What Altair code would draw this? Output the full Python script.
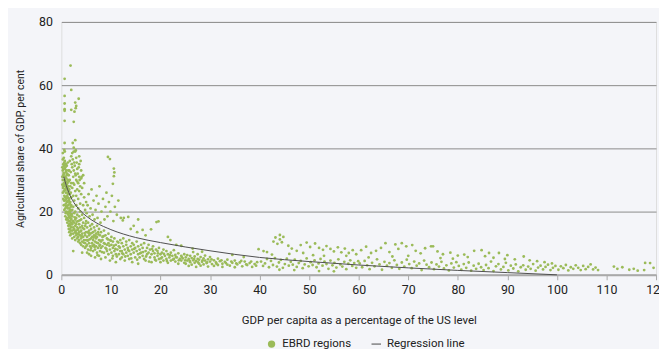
import altair as alt
import pandas as pd

# ---- scatter points: [GDP per capita % of US, agricultural share %] ----
outlier_points = [
    [1.86, 66.2], [0.66, 62.0], [2.0, 58.5], [0.66, 56.6], [3.5, 55.7], [0.66, 54.2], [2.8, 54.5],
    [3.0, 53.4], [2.9, 52.7], [0.66, 52.4], [0.66, 51.9], [2.0, 52.2], [2.65, 51.6], [0.66, 48.7],
    [2.5, 48.4], [2.8, 42.6], [2.3, 41.7], [0.66, 41.7], [2.5, 40.2], [2.9, 39.4], [2.5, 39.0], [0.7, 39.0],
]

low_gdp_points = [
    [0.2, 34], [0.2, 31], [0.2, 28.5], [0.3, 36.5], [0.3, 33], [0.3, 30], [0.3, 26], [0.3, 38.5],
    [0.4, 35], [0.4, 31.5], [0.4, 28], [0.4, 24], [0.4, 33.5], [0.5, 37], [0.5, 34.5], [0.5, 29], [0.5, 26.5], [0.5, 22], [0.5, 31],
    [0.6, 35.5], [0.6, 32], [0.6, 28.5], [0.6, 25], [0.6, 20.5], [0.6, 39.5], [0.7, 33.5], [0.7, 30], [0.7, 27], [0.7, 23.5], [0.7, 36],
    [0.8, 34], [0.8, 31], [0.8, 28], [0.8, 24.5], [0.8, 21], [0.8, 18.5], [0.9, 32.5], [0.9, 29.5], [0.9, 26], [0.9, 22.5], [0.9, 35], [0.9, 19.5],
    [1.0, 33], [1.0, 30.5], [1.0, 27.5], [1.0, 24], [1.0, 20], [1.0, 17.5], [1.1, 31.5], [1.1, 28.5], [1.1, 25], [1.1, 21.5], [1.1, 34.5], [1.1, 18],
    [1.2, 29], [1.2, 26], [1.2, 23], [1.2, 19.5], [1.2, 32], [1.2, 16.5], [1.3, 30], [1.3, 27], [1.3, 24.5], [1.3, 21], [1.3, 17.5], [1.3, 35.5],
    [1.4, 28], [1.4, 25.5], [1.4, 22], [1.4, 19], [1.4, 15.5], [1.4, 33], [1.5, 29.5], [1.5, 26.5], [1.5, 23.5], [1.5, 20], [1.5, 17], [1.5, 14.5], [1.5, 31.5],
    [1.6, 27], [1.6, 24], [1.6, 21], [1.6, 18.5], [1.6, 16], [1.6, 13.5], [1.6, 33],
    [1.7, 25.5], [1.7, 22.5], [1.7, 19.5], [1.7, 17], [1.7, 14.5], [1.7, 30], [1.7, 36],
    [1.8, 28], [1.8, 23], [1.8, 20.5], [1.8, 18], [1.8, 15.5], [1.8, 12.5],
    [1.9, 26], [1.9, 21.5], [1.9, 19], [1.9, 16.5], [1.9, 14], [1.9, 32.5],
    [2.0, 24.5], [2.0, 22], [2.0, 17.5], [2.0, 15], [2.0, 13], [2.0, 29], [2.0, 37.5],
    [2.2, 27.5], [2.2, 20.5], [2.2, 18.5], [2.2, 16], [2.2, 14], [2.2, 11.5], [2.2, 34],
    [2.4, 25], [2.4, 21.5], [2.4, 17], [2.4, 15], [2.4, 13], [2.4, 31], [2.4, 7.5],
    [2.6, 28.5], [2.6, 19.5], [2.6, 16.5], [2.6, 14.5], [2.6, 12], [2.6, 35.5], [2.6, 23.5],
    [2.8, 26.5], [2.8, 20], [2.8, 17.5], [2.8, 15.5], [2.8, 13.5], [2.8, 11], [2.8, 32],
    [3.0, 30], [3.0, 22], [3.0, 18], [3.0, 16], [3.0, 14], [3.0, 12.5], [3.0, 37], [3.0, 25],
    [3.2, 27], [3.2, 19], [3.2, 15], [3.2, 13], [3.2, 11.5], [3.2, 33.5],
    [3.4, 29], [3.4, 21], [3.4, 17], [3.4, 14.5], [3.4, 12], [3.4, 10.5], [3.4, 24],
    [3.6, 31], [3.6, 18.5], [3.6, 16], [3.6, 13.5], [3.6, 11], [3.6, 26.5], [3.6, 35],
    [3.8, 28], [3.8, 20], [3.8, 15], [3.8, 12.5], [3.8, 10], [3.8, 22.5],
    [4.0, 30.5], [4.0, 17.5], [4.0, 14], [4.0, 11.5], [4.0, 9.5], [4.0, 25.5], [4.0, 33],
    [4.2, 19], [4.2, 15.5], [4.2, 13], [4.2, 10.5], [4.2, 27.5], [4.2, 7],
    [4.4, 22], [4.4, 16.5], [4.4, 12], [4.4, 9], [4.4, 31.5],
    [4.6, 18], [4.6, 14.5], [4.6, 11], [4.6, 24.5], [4.6, 29],
    [4.8, 20.5], [4.8, 15.5], [4.8, 12.5], [4.8, 10], [4.8, 8.5],
    [5.0, 23], [5.0, 17], [5.0, 13.5], [5.0, 11], [5.0, 9],
    [2.1, 35], [2.3, 36.5], [2.5, 33], [2.7, 34.5], [2.9, 31.5], [3.1, 35.5], [3.3, 32], [3.5, 34],
    [3.7, 30], [3.9, 36], [2.2, 38.5], [2.8, 39], [3.2, 29.5], [4.1, 31], [2.4, 29], [3.6, 37.5],
]

band_extra_points = [
    [0.35, 27.5], [0.45, 32.2], [0.55, 23.5], [0.65, 29.8], [0.75, 34.8], [0.85, 26.8], [0.95, 21.8], [1.05, 29.2],
    [1.15, 23.2], [1.25, 27.8], [1.35, 19.8], [1.45, 24.2], [1.55, 18.2], [1.65, 22.8], [1.75, 15.8], [1.85, 20.2],
    [1.95, 17.8], [2.1, 19.2], [2.3, 16.8], [2.5, 14.2], [2.7, 18.2], [2.9, 13.2], [3.1, 16.8], [3.3, 14.2],
    [3.5, 12.8], [3.7, 17.2], [3.9, 13.8], [4.1, 12.2], [4.3, 14.8], [4.5, 10.2], [4.7, 13.2], [4.9, 16.2],
    [5.3, 10.8], [5.5, 13.2], [5.7, 11.2], [5.9, 7.8], [6.1, 13.2], [6.3, 9.2], [6.5, 11.8], [6.7, 8.8],
    [6.9, 12.2], [7.1, 10.2], [7.3, 6.2], [7.5, 12.8], [7.7, 9.2], [7.9, 10.8], [8.2, 7.2], [8.5, 12.2],
    [8.8, 9.8], [9.1, 8.2], [9.4, 11.2], [9.7, 9.2], [10.0, 10.8], [10.3, 5.2], [10.6, 9.2], [10.9, 8.2],
    [11.2, 5.8], [11.5, 10.2], [11.8, 8.6], [12.3, 6.8], [12.9, 5.8], [13.5, 7.8], [14.1, 5.2], [14.7, 8.2],
    [15.3, 4.8], [15.9, 6.8], [16.5, 7.2], [17.1, 5.8], [17.7, 4.2], [18.3, 8.2], [18.9, 4.8], [19.5, 6.8],
    [20.1, 5.2], [20.7, 6.6], [21.3, 4.4], [21.9, 6.2], [22.5, 4.8], [23.1, 5.6], [23.7, 4.6], [24.3, 5.6],
    [25.0, 4.6], [25.9, 4.4], [26.8, 5.0], [27.6, 3.9], [28.5, 4.6], [29.4, 3.9], [30.3, 4.9], [31.3, 3.5],
    [32.3, 4.6], [33.2, 3.7], [34.3, 4.2], [35.3, 3.6], [36.3, 4.4], [37.3, 3.3], [38.3, 4.2], [39.3, 2.9],
]

mid_low_points = [
    [5.2, 15], [5.2, 12], [5.2, 9.5], [5.2, 7], [5.4, 16.5], [5.4, 13.5], [5.4, 11], [5.4, 8], [5.6, 14], [5.6, 12.5], [5.6, 10], [5.6, 6.5],
    [5.8, 15.5], [5.8, 13], [5.8, 9], [6.0, 14.5], [6.0, 11.5], [6.0, 8.5], [6.0, 6], [6.2, 16], [6.2, 12], [6.2, 10], [6.4, 13.5], [6.4, 11], [6.4, 7.5],
    [6.6, 15], [6.6, 12.5], [6.6, 9.5], [6.8, 14], [6.8, 10.5], [6.8, 8], [6.8, 5.5], [7.0, 13], [7.0, 11.5], [7.0, 9], [7.2, 15.5], [7.2, 12], [7.2, 7],
    [7.4, 13.5], [7.4, 10], [7.4, 8.5], [7.6, 14.5], [7.6, 11], [7.6, 6], [7.8, 12.5], [7.8, 9.5], [7.8, 7.5], [8.0, 13.5], [8.0, 10.5], [8.0, 8.5], [8.0, 5],
    [8.3, 12], [8.3, 9], [8.3, 11], [8.6, 14], [8.6, 10], [8.6, 7], [8.9, 12.5], [8.9, 8.5], [8.9, 5.5], [9.2, 11.5], [9.2, 9.5], [9.2, 7.5], [9.5, 13], [9.5, 10], [9.5, 6.5],
    [9.8, 11], [9.8, 8], [9.8, 4.5], [10.1, 12], [10.1, 9.5], [10.1, 7], [10.4, 10.5], [10.4, 8.5], [10.4, 6], [10.7, 11.5], [10.7, 7.5], [11.0, 9.5], [11.0, 6.5], [11.0, 4],
    [11.3, 10.5], [11.3, 8], [11.6, 9], [11.6, 6.5], [11.9, 11], [11.9, 7.5], [11.9, 5],
    [5.1, 19.5], [5.3, 22], [5.5, 25.5], [5.7, 18.5], [5.9, 21], [6.1, 27], [6.3, 19], [6.5, 23.5], [6.7, 17.5], [6.9, 20.5], [7.1, 25],
    [7.3, 18], [7.5, 22.5], [7.7, 28], [7.9, 16.5], [8.1, 20], [8.4, 24], [8.7, 17.5], [8.9, 21.5], [9.1, 26], [9.3, 18.5], [9.6, 23],
    [9.9, 20], [10.2, 25], [10.5, 17], [10.8, 21.5], [11.2, 19], [11.5, 23.5], [12.0, 18], [12.4, 17.2], [12.6, 18], [13.5, 18.3],
    [15.5, 17.5], [16.4, 14.2], [18.1, 14.4], [19.2, 16.7], [19.6, 16.9], [14.0, 14.5], [14.6, 15.5], [15.3, 13.5], [17.0, 12.5],
    [21.5, 12], [22.0, 11], [9.4, 37.3], [9.8, 36.6], [10.6, 33.6], [10.7, 32.4], [10.4, 28.8], [10.6, 31.2],
    [12.2, 10], [12.2, 7.5], [12.2, 5.5], [12.5, 11.5], [12.5, 9], [12.5, 6.5], [12.8, 8], [12.8, 4.5], [13.1, 10.5], [13.1, 7], [13.1, 9.5],
    [13.4, 8.5], [13.4, 6], [13.7, 11], [13.7, 7.5], [13.7, 5], [14.0, 9], [14.0, 6.5], [14.3, 10], [14.3, 8], [14.3, 4], [14.6, 7], [14.6, 9.5],
    [14.9, 8.5], [14.9, 5.5], [15.2, 10.5], [15.2, 7.5], [15.5, 6.5], [15.5, 9], [15.5, 3.5], [15.8, 8], [15.8, 5.5], [16.1, 9.5], [16.1, 7],
    [16.4, 6], [16.4, 8.5], [16.7, 10], [16.7, 5], [17.0, 7.5], [17.0, 4.5], [17.3, 8.5], [17.3, 6.5], [17.6, 7], [17.6, 9.5],
    [17.9, 5.5], [17.9, 8], [18.2, 6.5], [18.2, 4], [18.5, 7.5], [18.5, 9], [18.8, 5.5], [18.8, 6.8], [19.1, 8], [19.1, 4.5], [19.4, 6], [19.4, 7.5],
    [19.7, 5], [19.7, 8.5], [20.0, 6.5], [20.0, 4], [20.3, 7], [20.3, 5.5], [20.6, 8], [20.6, 4.5], [20.9, 6], [21.2, 7.5], [21.2, 5], [21.5, 6.5],
    [21.5, 3.8], [21.8, 5.5], [22.1, 7], [22.1, 4.5], [22.4, 6], [22.7, 5], [22.7, 7.8], [23.0, 4.2], [23.0, 6.3], [23.3, 5.5], [23.6, 3.5],
    [23.6, 6.8], [23.9, 5], [24.2, 4.5], [24.2, 6], [24.5, 5.2], [24.8, 3.8], [24.8, 6.5],
]

mid_points = [
    [25.1, 5.5], [25.1, 3.5], [25.4, 4.5], [25.4, 6.2], [25.7, 5], [25.7, 2.8], [26.0, 4], [26.0, 6], [26.3, 5.3], [26.3, 3.2], [26.6, 4.6], [26.6, 7.2],
    [26.9, 3.8], [26.9, 5.8], [27.2, 4.3], [27.2, 2.5], [27.5, 5], [27.5, 6.5], [27.8, 3.5], [27.8, 4.8], [28.1, 5.6], [28.1, 2.9], [28.4, 4.1],
    [28.7, 5.2], [28.7, 3.3], [29.0, 4.5], [29.0, 6.1], [29.3, 3.7], [29.6, 4.9], [29.6, 2.6], [30.0, 4.2], [30.0, 5.6], [30.4, 3.4], [30.8, 4.6],
    [30.8, 2.8], [31.2, 3.9], [31.6, 5.1], [31.6, 3.1], [32.0, 4.3], [32.5, 3.5], [32.5, 2.5], [33.0, 4.1], [33.5, 3.2], [33.5, 4.8],
    [34.0, 2.9], [34.5, 3.8], [35.0, 4.5], [35.0, 2.4], [35.5, 3.3], [36.0, 3.9], [36.5, 2.7], [37.0, 4.2], [37.5, 3.1], [38.0, 3.7],
    [38.5, 2.5], [39.0, 3.4], [39.5, 4], [39.8, 8.1], [40.8, 7.5], [23.2, 9.5], [24.2, 9.2], [26.5, 8.3], [28.4, 7.3], [34.5, 6.3], [36.8, 5.6],
    [42.8, 10.5], [43.2, 11.8], [43.6, 9.8], [44.1, 12.6], [44.1, 11.2], [44.5, 10.3], [44.8, 12.0], [45.8, 9.2], [46.5, 8.3], [47.5, 7.6],
    [48.3, 9.4], [49.5, 10.2], [50.2, 8.8], [51.2, 9.9], [52.0, 8.5], [52.8, 7.9], [53.5, 9.1], [54.3, 8.2], [55.0, 7.4], [55.8, 8.7],
    [56.5, 7.1], [57.2, 8.3], [58.0, 6.9], [58.8, 7.8], [59.5, 6.5], [41.5, 7.2], [42.5, 6.4], [46.0, 6.6], [48.8, 6.9], [50.8, 6.2], [53.0, 6.0], [57.5, 6.0],
    [40.3, 4.2], [40.7, 2.8], [41.1, 3.6], [41.5, 5], [41.9, 2.4], [42.3, 4.4], [42.7, 3.1], [43.1, 5.3], [43.5, 2.6], [43.9, 3.9], [44.3, 4.7],
    [44.7, 2.2], [45.1, 3.4], [45.5, 5.1], [45.9, 2.9], [46.3, 4.1], [46.7, 3.2], [47.1, 4.8], [47.5, 2.5], [47.9, 3.7], [48.3, 4.4], [48.7, 2.1],
    [49.1, 3.3], [49.5, 5.2], [49.9, 2.7], [50.3, 4], [50.7, 3.1], [51.1, 4.6], [51.5, 2.4], [51.9, 3.6], [52.3, 5], [52.7, 2.9], [53.1, 4.2],
    [53.5, 3.4], [53.9, 1.9], [54.3, 4.5], [54.7, 3], [55.1, 3.8], [55.5, 2.3], [55.9, 4.9], [56.3, 3.3], [56.7, 2.6], [57.1, 4.1], [57.5, 1.8],
    [57.9, 3.5], [58.3, 4.6], [58.7, 2.8], [59.1, 3.7], [59.5, 2.2], [59.9, 4.3], [47.0, 1.5], [52.0, 1.2], [55.0, 1.1], [44.0, 1.6],
]

high_gdp_points = [
    [60.5, 7.8], [61.5, 8.9], [62.5, 6.9], [63.5, 7.6], [64.5, 8.5], [65.4, 10], [66.2, 7.2], [67.4, 9.6], [68, 8.2], [68.7, 10], [69.6, 9],
    [70.8, 9.4], [71.5, 7.6], [72.5, 6.8], [73.4, 8.4], [74.6, 9], [75, 9], [75.9, 7.4], [77, 6.5], [78.5, 7], [80, 6.1], [81.3, 6.4], [82, 5.6],
    [83.3, 7.6], [84.8, 7.8], [85.5, 5.9], [86.3, 6.9], [87.2, 5.4], [88.3, 6.9], [89.5, 5], [90, 6.2], [91.5, 4.9], [93.3, 5.8], [94.5, 4.6],
    [96, 4.3], [97.5, 4], [99, 3.6], [62, 5.5], [66.8, 5.8], [70, 6], [76.5, 5.3], [79, 5.1],
    [60.2, 3.6], [60.7, 2.4], [61.2, 4.4], [61.7, 3], [62.2, 1.8], [62.7, 3.8], [63.2, 2.7], [63.7, 4.9], [64.2, 3.3], [64.7, 1.6], [65.2, 4.1],
    [65.7, 2.9], [66.2, 3.7], [66.7, 2.2], [67.2, 4.6], [67.7, 3.1], [68.2, 1.9], [68.7, 3.9], [69.2, 2.6], [69.7, 4.8], [70.2, 3.4], [70.7, 2.1],
    [71.2, 4.2], [71.7, 2.9], [72.2, 3.6], [72.7, 1.5], [73.2, 4.5], [73.7, 3.2], [74.2, 2.4], [74.7, 3.9], [75.2, 1.8], [75.7, 3.3], [76.2, 2.6],
    [76.7, 4.1], [77.2, 2], [77.7, 3], [78.2, 1.4], [78.7, 3.6], [79.2, 2.3], [79.7, 4], [80.2, 2.8], [80.7, 1.6], [81.2, 3.4], [81.7, 2.2],
    [82.2, 3.9], [82.7, 1.3], [83.2, 2.9], [83.7, 1.9], [84.2, 3.5], [84.7, 2.4], [85.2, 1.5], [85.7, 3.1], [86.2, 2.1], [86.7, 4.2], [87.2, 1.2],
    [87.7, 2.7], [88.2, 3.4], [88.7, 1.7], [89.2, 2.5], [89.7, 3.8], [90.2, 1.4], [90.7, 2.9], [91.2, 2], [91.7, 3.3], [92.2, 1.1], [92.7, 2.4],
    [93.2, 3], [93.7, 1.6], [94.2, 2.6], [94.7, 1.9], [95.2, 3.4], [95.7, 1.3], [96.2, 2.3], [96.7, 2.9], [97.2, 1.7], [97.7, 2.5], [98.2, 3.2],
    [98.7, 1.5], [99.2, 2.2], [99.7, 2.8],
    [100.3, 1.6], [100.8, 2.7], [101.3, 2.1], [101.8, 3.1], [102.3, 1.4], [102.8, 2.4], [103.3, 1.9], [103.8, 3], [104.3, 2.2], [104.8, 1.5],
    [105.3, 2.8], [105.8, 1.8], [106.3, 2.5], [106.8, 3.3], [107.3, 1.7], [107.8, 2.3], [108.3, 1.5], [111.5, 2.6], [112.2, 1.9], [113.2, 2.4],
    [114.6, 1.6], [115.5, 1.9], [116.3, 1.3], [117.6, 1.5], [117.8, 3.75], [118.8, 3.7], [119.5, 2.2],
]

# ---- regression line ----
reg_x = [0.5, 1, 2, 3, 4, 5, 7, 10, 15, 20, 30, 40, 50, 60, 70, 80, 90, 100]
reg_y = [31.0, 28.2, 24.3, 21.8, 20.0, 18.6, 16.5, 14.3, 11.8, 10.2, 7.6, 5.5, 4.2, 3.1, 2.2, 1.4, 0.7, 0.0]

series_names = ["EBRD regions", "Regression line"]
series_colors = ["#9bbb59", "#4d4d4d"]

rows = []
for group in (outlier_points, low_gdp_points, band_extra_points, mid_low_points, mid_points, high_gdp_points):
    for gx, gy in group:
        rows.append({"gdp": gx, "agri": gy, "series": series_names[0]})
points_df = pd.DataFrame(rows)
reg_df = pd.DataFrame({"gdp": reg_x, "agri": reg_y})

FONT = "Roboto, sans-serif"

x_scale = alt.Scale(domain=[0, 120], nice=False, zero=False)
y_scale = alt.Scale(domain=[0, 80], nice=False)

x_enc = alt.X(
    "gdp:Q", scale=x_scale,
    axis=alt.Axis(
        values=list(range(0, 121, 10)), title="GDP per capita as a percentage of the US level",
        grid=False, domainColor="#a9a9a9", domainWidth=2, tickColor="#a9a9a9", tickSize=5,
        labelFontSize=12.5, labelColor="#222222", labelPadding=4, labelFlush=False,
        titleFontSize=11.6, titleFontWeight="normal", titleColor="#222222", titlePadding=19,
    ),
)
y_enc = alt.Y(
    "agri:Q", scale=y_scale,
    axis=alt.Axis(
        values=[0, 20, 40, 60, 80], title="Agricultural share of GDP, per cent",
        grid=True, gridColor="#8a8a8a", gridWidth=1, domain=False, ticks=False,
        labelFontSize=12.5, labelColor="#222222", labelPadding=9,
        titleFontSize=10.6, titleFontWeight="normal", titleColor="#222222", titlePadding=13,
    ),
)

legend_def = dict(
    title=None, orient="none", legendX=207, legendY=320, direction="horizontal",
    symbolSize=55, labelFontSize=11.6, labelColor="#222222", labelOffset=5,
    columnPadding=19, symbolStrokeWidth=0,
)

points = alt.Chart(points_df).mark_point(filled=True, size=8, opacity=1).encode(
    x=x_enc,
    y=y_enc,
    color=alt.Color(
        "series:N",
        scale=alt.Scale(domain=series_names, range=series_colors),
        legend=alt.Legend(**legend_def),
    ),
    shape=alt.Shape(
        "series:N",
        scale=alt.Scale(domain=series_names, range=["circle", "M-1.3,-0.14H1.3V0.14H-1.3Z"]),
        legend=alt.Legend(**legend_def),
    ),
)

reg_line = alt.Chart(reg_df).mark_line(color="#4d4d4d", strokeWidth=1, interpolate="monotone").encode(
    x=alt.X("gdp:Q", scale=x_scale),
    y=alt.Y("agri:Q", scale=y_scale),
)

chart = (
    alt.layer(points, reg_line)
    .properties(
        width=602, height=256,
        autosize=alt.AutoSizeParams(type="none"),
        padding={"left": 54, "top": 12, "right": 3, "bottom": 73},
        background="#f4f5f9",
    )
    .configure_view(stroke=None)
    .configure(font=FONT)
)

chart.save("out.html", embed_options={"renderer": "svg", "actions": False})
